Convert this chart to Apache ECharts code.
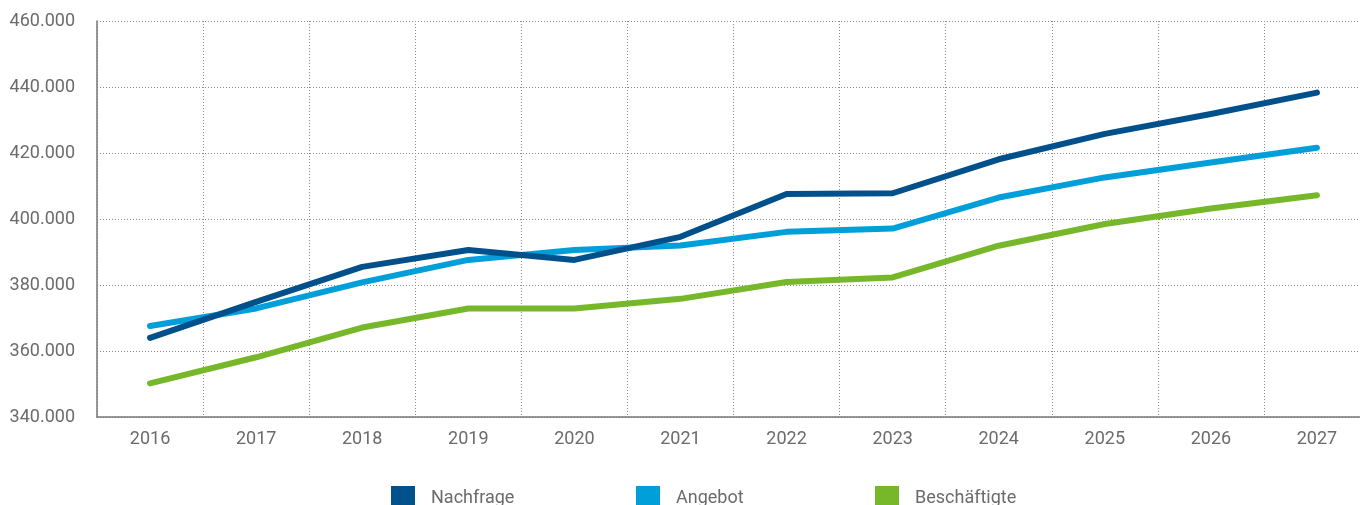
<!DOCTYPE html>
<html>
<head>
<meta charset="utf-8">
<script src="https://cdn.jsdelivr.net/npm/echarts@6/dist/echarts.min.js"></script>
<style>
html,body{margin:0;padding:0;background:#fff;}
#chart{width:1360px;height:505px;}
</style>
</head>
<body>
<div id="chart"></div>
<script>
const categories = ['2016','2017','2018','2019','2020','2021','2022','2023','2024','2025','2026','2027'];
const nachfrage = [364000, 374900, 385500, 390600, 387600, 394600, 407600, 407800, 418100, 425800, 431800, 438300];
const angebot = [367600, 372900, 380800, 387600, 390600, 392000, 396100, 397100, 406500, 412600, 417100, 421600];
const beschaeftigte = [350200, 358100, 367100, 372900, 372900, 375800, 380900, 382300, 391900, 398500, 403200, 407200];
const seriesNames = ['Nachfrage', 'Angebot', 'Beschäftigte'];
const yMin = 340000, yMax = 460000, yStep = 20000;

const colors = ['#00508c', '#009fda', '#76b82a'];
const textColor = '#6b6b6b';
const fontFamily = "Roboto, 'Liberation Sans', sans-serif";

function fmt(v) {
  const s = Math.round(v).toString();
  return s.replace(/\B(?=(\d{3})+(?!\d))/g, '.');
}

const chart = echarts.init(document.getElementById('chart'), null, {renderer: 'canvas'});
const dataSets = [nachfrage, angebot, beschaeftigte];
const legendLefts = [391, 636, 875];

chart.setOption({
  animation: false,
  backgroundColor: '#ffffff',
  textStyle: {fontFamily: fontFamily},
  grid: {left: 97, top: 21, width: 1273, height: 396, containLabel: false, outerBoundsMode: 'none'},
  legend: seriesNames.map((n, i) => ({
    data: [n],
    left: legendLefts[i],
    top: 486,
    padding: 0,
    icon: 'rect',
    itemWidth: 24,
    itemHeight: 24,
    selectedMode: false,
    textStyle: {color: textColor, fontSize: 18, fontFamily: fontFamily, padding: [0, 0, 0, 11]}
  })),
  xAxis: {
    type: 'category',
    data: categories,
    boundaryGap: true,
    axisLine: {show: true, lineStyle: {color: '#777', width: 1.5}},
    axisTick: {show: false},
    axisLabel: {color: textColor, fontSize: 18, margin: 13, fontFamily: fontFamily},
    splitLine: {show: true, interval: 0, lineStyle: {color: '#8a8a8a', type: [1, 2], width: 1}}
  },
  yAxis: {
    type: 'value',
    min: yMin,
    max: yMax,
    interval: yStep,
    axisLine: {show: true, lineStyle: {color: '#777', width: 1.5}},
    axisTick: {show: false},
    axisLabel: {color: textColor, fontSize: 18, margin: 22, fontFamily: fontFamily, formatter: fmt},
    splitLine: {show: true, lineStyle: {color: '#8a8a8a', type: [1, 2], width: 1}}
  },
  series: seriesNames.map((n, i) => ({
    name: n,
    type: 'line',
    data: dataSets[i],
    symbol: 'none',
    smooth: false,
    color: colors[i],
    lineStyle: {width: 6, color: colors[i], cap: 'round', join: 'round'},
    z: 3 - i
  }))
});
</script>
</body>
</html>
